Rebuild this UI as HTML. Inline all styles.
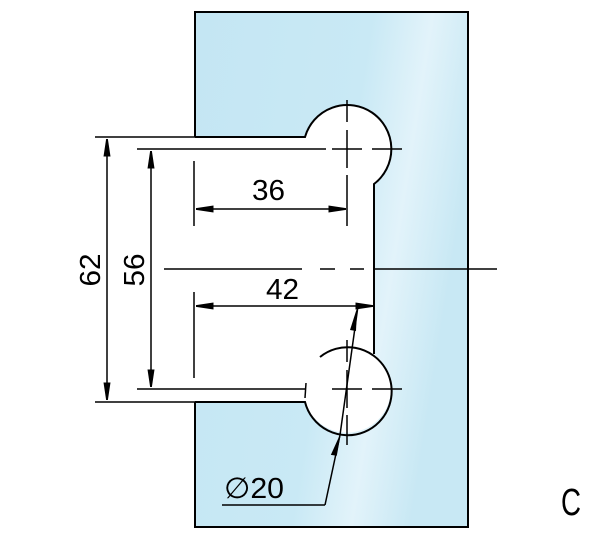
<!DOCTYPE html>
<html><head><style>html,body{margin:0;padding:0;background:#fff}svg{display:block}</style></head>
<body>
<svg width="600" height="540" viewBox="0 0 600 540" xmlns="http://www.w3.org/2000/svg" font-family="'Liberation Sans', 'DejaVu Sans', sans-serif">
<defs>
<linearGradient id="g" x1="0" y1="0" x2="1" y2="0.3">
<stop offset="0" stop-color="#c4e6f3"/><stop offset="0.6" stop-color="#c9e9f5"/><stop offset="0.8" stop-color="#e2f3fa"/><stop offset="1" stop-color="#c8e8f4"/>
</linearGradient>
<marker id="a" viewBox="0 0 10 4" refX="10" refY="2" markerWidth="18" markerHeight="7" markerUnits="userSpaceOnUse" orient="auto-start-reverse"><path d="M0,0 L10,1.5 L10,2.5 L0,4z" fill="#000"/></marker>
</defs>
<rect x="195" y="12" width="273" height="515" fill="url(#g)" stroke="#000" stroke-width="2"/>
<path d="M194,137 L305,137 A44,44 0 1 1 374,184 L374,354 A44,44 0 1 1 305,402 L194,402 Z" fill="#fff" stroke="none"/>
<path d="M195,137 L305,137 A44,44 0 1 1 374,184 L374,354 M320,357 A44,44 0 1 1 305,402 L195,402" fill="none" stroke="#000" stroke-width="2"/>
<g stroke="#000" stroke-width="1.5" fill="none">
<line x1="95" y1="137" x2="195" y2="137"/>
<line x1="95" y1="402" x2="195" y2="402"/>
<line x1="107" y1="139" x2="107" y2="400" marker-start="url(#a)" marker-end="url(#a)"/>
<line x1="137" y1="149" x2="326" y2="149"/>
<line x1="137" y1="389" x2="305" y2="389"/>
<line x1="151" y1="151" x2="151" y2="387" marker-start="url(#a)" marker-end="url(#a)"/>
<line x1="194" y1="161" x2="194" y2="226"/>
<line x1="194" y1="292" x2="194" y2="378"/>
<line x1="196" y1="209" x2="346" y2="209" marker-start="url(#a)" marker-end="url(#a)"/>
<line x1="196" y1="306" x2="373" y2="306" marker-start="url(#a)" marker-end="url(#a)"/>
<line x1="164" y1="269" x2="302" y2="269"/>
<line x1="374" y1="269" x2="497" y2="269"/>
<path d="M320,269h15 M350,269h14"/>
<path d="M347,100v22 M347,130v38 M347,175v51"/>
<path d="M332,149h30 M372,149h30"/>
<path d="M347,340v22 M347,370v38 M347,415v30"/>
<path d="M332,389h30 M372,389h30"/>
<path d="M306,383l-1,15"/>
<line x1="222" y1="505" x2="325" y2="505"/>
<line x1="325" y1="505" x2="340" y2="435"/>
<line x1="340" y1="435" x2="358" y2="306"/>
</g>
<path d="M340,432 L333,456 L339,456z" fill="#000" transform="rotate(8 340 440)"/>
<path d="M357,308 L350,330 L356,331z" fill="#000"/>
<g font-size="29" fill="#000">
<text x="252" y="200" textLength="33" lengthAdjust="spacingAndGlyphs">36</text>
<text x="266" y="299" textLength="33" lengthAdjust="spacingAndGlyphs">42</text>
<text transform="translate(100,270) rotate(-90)" text-anchor="middle" textLength="33" lengthAdjust="spacingAndGlyphs" x="0" y="0">62</text>
<text transform="translate(144,270) rotate(-90)" text-anchor="middle" textLength="33" lengthAdjust="spacingAndGlyphs" x="0" y="0">56</text>
<text x="224" y="498" textLength="60" lengthAdjust="spacingAndGlyphs">∅20</text>
<text x="561" y="515" font-size="38" textLength="20" lengthAdjust="spacingAndGlyphs">C</text>
</g>
</svg>
</body></html>
